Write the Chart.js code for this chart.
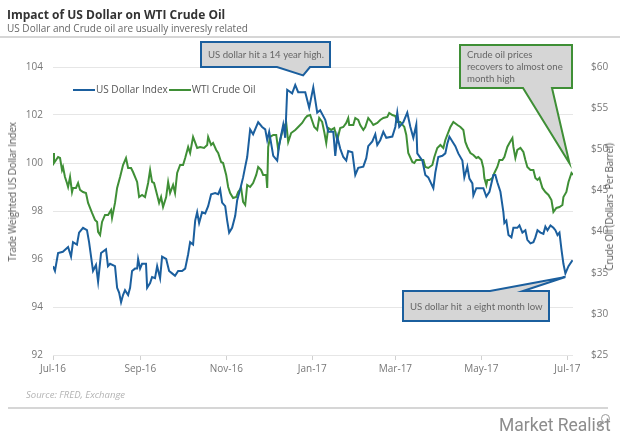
<!DOCTYPE html>
<html>
<head>
<meta charset="utf-8">
<script src="https://cdn.jsdelivr.net/npm/chart.js@4"></script>
<style>
  html, body { margin: 0; padding: 0; background: #fff; }
  #wrap { position: relative; width: 620px; height: 436px; overflow: hidden; font-family: "Open Sans", sans-serif; }
  canvas { position: absolute; left: 0; top: 0; }
  .t { position: absolute; white-space: nowrap; line-height: 1; }
  #title { left: 7px; top: 9px; font-size: 12px; font-weight: bold; color: #333; }
  #subtitle { left: 7px; top: 23px; font-size: 10px; color: #666; }
  #rule1 { position: absolute; left: 0; top: 36px; width: 620px; height: 2px; background: #d6d6d6; }
  #rule2 { position: absolute; left: 8px; top: 407px; width: 600px; height: 2px; background: #d6d6d6; }
  #source { left: 26px; top: 390px; font-size: 9.5px; font-style: italic; color: #b3b3b3; }
  #logo { left: 499px; top: 417px; font-family: Roboto, sans-serif; font-size: 17.5px; color: #8c8c8c; }
  #mag { position: absolute; left: 601px; top: 414px; width: 7px; height: 7px; border: 1.5px solid #9a9a9a; border-radius: 50%; }
  #magh { position: absolute; left: 597px; top: 424px; width: 6px; height: 1.5px; background: #9a9a9a; transform: rotate(-45deg); }
  .axt { position: absolute; white-space: nowrap; font-size: 10px; letter-spacing: -0.3px; color: #555; line-height: 1; }
  #ylab { left: 12px; top: 192px; transform: translate(-50%, -50%) rotate(-90deg); }
  #y2lab { left: 609px; top: 207px; transform: translate(-50%, -50%) rotate(-90deg); }
  #legend { position: absolute; left: 73px; top: 83px; font-size: 10px; color: #555; line-height: 12px; white-space: nowrap; }
  #legend span.sw { display: inline-block; width: 22px; height: 2px; vertical-align: middle; margin-right: 1px; }
  #legend span.item { margin-right: 1px; }
</style>
</head>
<body>
<div id="wrap">
  <canvas id="c" width="620" height="436"></canvas>
  <div id="title" class="t">Impact of US Dollar on WTI Crude Oil</div>
  <div id="subtitle" class="t">US Dollar and Crude oil are usually inveresly related</div>
  <div id="rule1"></div>
  <div id="ylab" class="axt">Trade Weighted US Dollar Index</div>
  <div id="y2lab" class="axt">Crude Oil (Dollars&nbsp; Per Barrel)</div>
  <div id="legend">
    <span class="sw" style="background:#1b5f9e"></span><span class="item">US Dollar Index</span><span class="sw" style="background:#3f8f36"></span><span class="item">WTI Crude Oil</span>
  </div>
  <div id="source" class="t">Source: FRED, Exchange</div>
  <div id="rule2"></div>
  <div id="logo" class="t">Market Realist</div>
  <div id="mag"></div><div id="magh"></div>
</div>
<script>
// Days counted from 1 Jul 2016
const tickDays = [0, 62, 123, 184, 243, 304, 365];
const tickLabels = ['Jul-16', 'Sep-16', 'Nov-16', 'Jan-17', 'Mar-17', 'May-17', 'Jul-17'];

const usdDay = [0,1.4,3.6,7,10.7,12.8,14.2,17,18.5,21.3,24.1,25.6,28.4,30.5,32,34.1,37.6,39,40.5,44,45.5,46.9,48.3,49.7,51.1,53.3,54.7,56.1,58.2,59.7,60.4,61.8,63.2,66,66.8,68.9,70.3,72.4,73.9,76,77.4,80.3,82.4,84.5,86.6,88.8,91.6,93.8,95.9,97.3,99.4,100.9,102.3,103.7,105.8,108,110.1,112.2,115.1,117.2,118.6,120,122.2,123.6,125,127.1,129.3,130.7,132.8,134.9,136.4,137.8,139.9,142,145.6,148.4,150.6,152,153.4,156.3,159.1,160.5,163.4,164.8,166.2,169.7,171.9,174,179,181.8,184.7,187.5,189.6,193.2,195.3,198.9,200.3,201.7,203.8,206,208.1,209.5,212.4,214.5,216.6,220.2,222.3,223.7,226.6,228.7,230.1,232.2,234.4,236.5,240.8,242.9,244.3,245.7,248.6,251.4,253.6,255.7,257.8,258.5,262.1,264.2,266.3,269.9,271.3,273.4,276.3,278.4,279.8,281.3,283.4,285.5,287.6,290.5,291.9,294,295.5,297.6,298.3,300.4,305.4,307.5,309.7,312.5,313.9,315.3,317.5,319.6,320.3,321.7,323.2,325.3,326.7,329.5,331,333.1,335.2,336.6,338.8,340.9,342.3,343.8,345.9,348,349.4,350.9,353,355.1,356.5,358,359.4,360.8,362.2,363.6,365.8,368.6];
const usdIndex = [95.7,95.5,96.25,96.3,96.5,96.1,96.7,96.6,97.1,97.3,97.2,96.7,95.5,95.75,95.05,96.25,96.4,95.7,95.8,95.7,94.8,94.6,94.2,94.5,94.7,94.5,94.8,95.5,95.6,95.6,96.0,95.6,95.8,95.8,94.8,95.0,95.25,95.2,95.7,95.2,96.1,96.0,95.5,95.4,95.3,95.5,95.5,95.6,96.2,96.7,96.6,97.6,97.95,97.5,97.95,97.9,98.2,98.7,98.75,98.7,98.9,98.35,98.2,97.6,97.1,97.3,97.8,98.45,98.9,99.4,99.85,100.25,101.4,101.2,101.7,101.5,101.4,100.95,101.3,100.3,100.1,100.75,101.6,101.05,103.05,102.9,103.25,102.95,102.95,102.3,103.15,102.1,102.2,101.8,101.3,101.3,100.3,101.1,100.6,100.25,100.1,100.5,100.45,99.5,99.8,99.85,100.2,100.7,100.9,101.2,100.75,100.95,101.3,101.05,101.1,101.5,102.1,101.5,101.7,102.1,101.5,101.05,101.6,100.4,100.1,99.5,99.4,98.95,99.6,100.25,100.3,100.4,100.8,101.1,100.9,100.7,100.4,100.1,99.4,99.85,99.35,99.15,98.65,98.95,98.95,98.6,98.8,99.5,99.5,99.2,98.8,97.95,97.5,97.6,97.0,96.9,97.3,97.3,97.4,97.1,97.2,96.8,96.65,96.7,96.9,97.2,97.1,97.05,97.35,97.2,97.4,97.3,97.2,97.0,97.1,96.4,95.8,95.4,95.7,95.95];

const oilDay = [0,0.7,3.6,5,6.4,7.1,8.5,9.9,10.7,12.1,13.5,14.2,16.3,17.8,19.2,21.3,23.4,24.9,27.7,29.8,31.3,32,33.4,34.8,36.9,39.1,41.2,41.9,44,45.5,47.6,49.7,51.8,53.3,55.4,56.8,59.7,61.1,63.2,65.3,67.5,68.9,70.3,71.7,73.9,75.3,76.7,78.1,80.3,81.7,83.1,85.2,86.6,88.1,90.2,92.3,93.8,95.9,97.3,99.4,102.3,104.4,107.2,109.4,110.1,112.2,113.6,115.8,117.2,119.3,120.7,122.9,124.3,125.7,127.8,130,131.4,133.5,134.9,136.4,137.8,139.9,142,144.2,145.6,147.7,149.1,151.3,152,152.7,154.1,156.3,158.4,159.8,161.2,163.4,165.5,166.9,169,171.9,174,176.8,179,180.4,182.5,185.4,187.5,188.9,191,192.5,193.9,195.3,197.4,199.6,201.7,203.8,206,208.1,209.5,210.2,213.1,214.5,216.6,218,220.2,221.6,223.7,225.9,227.3,230.1,232.2,234.4,237.2,238.6,240.8,242.9,244.3,246.4,249.3,250.7,252.1,255,256.4,257.8,259.9,262.8,264.2,266.3,269.2,270.6,272.7,274.9,277,278.4,279.8,282,284.1,287,289.1,291.2,292.6,294,296.2,298.3,300.4,301.8,304,305.4,306.1,307.5,308.2,309.7,311.8,313.2,315.3,316.8,318.9,320.3,322.4,323.9,326,326.7,328.1,329.5,331.7,333.8,335.2,336.6,338.8,340.9,342.3,343.8,345.2,347.3,349.4,351.6,353.7,355.1,357.2,359.4,361.5,362.2,364.3,365.8,367.9,369];
const oilPrice = [49.55,48.33,49.06,48.94,47.48,47.85,46.63,45.9,45.42,46.63,44.81,45.3,45.3,45.9,45.06,44.81,44.69,43.48,42.26,41.41,41.17,39.95,39.59,41.17,42.02,42.02,42.63,41.65,43.48,45.3,46.63,48.09,48.94,47.73,47.73,47.24,46.03,44.2,44.45,44.2,45.9,47.48,46.03,45.9,44.45,43.48,44.2,42.99,44.2,46.03,44.69,45.66,44.69,47.12,48.09,48.09,48.94,50.28,49.55,51.5,50.16,50.28,50.16,50.52,51.5,50.52,50.77,49.92,49.55,48.46,48.33,46.88,45.42,44.69,44.08,44.2,44.81,45.3,43.6,43.23,45.66,45.42,45.9,46.88,47.85,47.48,46.88,46.88,45.3,50.28,51.5,51.74,51.74,49.92,51.13,52.59,53.2,50.89,51.98,52.35,52.71,53.2,53.8,54.05,54.17,52.71,52.35,53.8,53.32,52.1,50.77,52.59,52.35,52.59,51.13,52.59,52.71,53.2,53.8,52.95,52.95,53.8,53.56,52.95,52.35,52.71,53.8,53.32,52.95,53.2,53.56,53.8,53.93,54.41,54.17,54.05,53.32,53.32,52.71,51.74,49.55,48.46,48.33,48.7,48.7,48.7,47.85,47.73,48.09,49.06,50.16,50.52,50.16,51.13,51.74,52.71,53.32,52.95,52.71,52.35,50.89,50.28,49.55,49.31,48.94,49.06,48.7,47.73,46.51,45.66,46.27,46.27,46.51,47.12,47.85,48.7,48.7,49.06,50.28,50.77,51.37,50.28,48.94,49.92,50.16,49.67,48.7,47.85,47.48,47.48,46.51,46.27,46.51,45.3,44.81,44.45,43.84,42.38,42.87,42.99,43.23,44.2,44.81,46.03,47.12,46.88];

const BLUE = '#1b5f9e';
const GREEN = '#3f8f36';
const TICK_FONT = { family: 'Open Sans', size: 10 };
const TICK_COLOR = '#777';

// Callout boxes: the tip is anchored to a data position, the box is placed on the page
const callouts = [
  { text: ['US dollar hit a 14 year high.'], color: BLUE, box: [201, 42, 330, 67], tail: 'bottom', base: [277, 310], tip: { x: 177.5, y: 103.65, axis: 'y' } },
  { text: ['Crude oil prices', 'recovers to almost one', 'month high'], color: GREEN, box: [460, 45, 572, 88], tail: 'bottom', base: [523, 552], tip: { x: 366.5, y: 48.3, axis: 'yOil' } },
  { text: ['US dollar hit  a eight month low'], color: BLUE, box: [403, 291, 549, 321], tail: 'top', base: [490, 523], tip: { x: 363.6, y: 95.25, axis: 'y' } }
];

const calloutPlugin = {
  id: 'callouts',
  afterDatasetsDraw(chart) {
    const c = chart.ctx;
    c.save();
    callouts.forEach(a => {
      const tx = chart.scales.x.getPixelForValue(a.tip.x);
      const ty = chart.scales[a.tip.axis].getPixelForValue(a.tip.y);
      const [l, t, r, b] = a.box;
      const [x1, x2] = a.base;
      c.beginPath();
      if (a.tail === 'bottom') {
        c.moveTo(l, t); c.lineTo(r, t); c.lineTo(r, b); c.lineTo(x2, b);
        c.lineTo(tx, ty); c.lineTo(x1, b); c.lineTo(l, b);
      } else {
        c.moveTo(l, t); c.lineTo(x1, t); c.lineTo(tx, ty); c.lineTo(x2, t);
        c.lineTo(r, t); c.lineTo(r, b); c.lineTo(l, b);
      }
      c.closePath();
      c.fillStyle = '#d6d6d6';
      c.fill();
      c.lineWidth = 2;
      c.strokeStyle = a.color;
      c.lineJoin = 'miter';
      c.stroke();
      c.fillStyle = '#666';
      c.font = '9.6px Lato';
      c.textBaseline = 'middle';
      const n = a.text.length;
      const lh = 11.7;
      const cy = (t + b) / 2 - (n - 1) * lh / 2 + 0.5;
      a.text.forEach((s, i) => c.fillText(s, l + 7, cy + i * lh));
    });
    c.restore();
  }
};

new Chart(document.getElementById('c'), {
  type: 'line',
  data: {
    datasets: [
      { label: 'US Dollar Index', data: usdDay.map((d, i) => ({ x: d, y: usdIndex[i] })), borderColor: BLUE, borderWidth: 2, pointRadius: 0, yAxisID: 'y', tension: 0 },
      { label: 'WTI Crude Oil', data: oilDay.map((d, i) => ({ x: d, y: oilPrice[i] })), borderColor: GREEN, borderWidth: 2, pointRadius: 0, yAxisID: 'yOil', tension: 0 }
    ]
  },
  options: {
    responsive: false,
    animation: false,
    layout: { padding: { top: 67, bottom: 0, left: 0, right: 0 } },
    plugins: { legend: { display: false }, tooltip: { enabled: false } },
    scales: {
      x: {
        type: 'linear', min: 0, max: 369,
        afterBuildTicks: s => { s.ticks = tickDays.map(v => ({ value: v })); },
        afterFit: s => { s.height = 81; },
        ticks: { callback: v => tickLabels[tickDays.indexOf(v)], font: TICK_FONT, color: TICK_COLOR, padding: 3, maxRotation: 0, autoSkip: false },
        grid: { drawOnChartArea: false, drawTicks: true, tickLength: 5, color: '#d0d0d0' },
        border: { display: false }
      },
      y: {
        position: 'left', min: 92, max: 104,
        afterFit: s => { s.width = 53; },
        ticks: { stepSize: 2, padding: 10, font: TICK_FONT, color: TICK_COLOR },
        grid: { color: '#e6e6e6', drawTicks: false },
        border: { display: false }
      },
      yOil: {
        position: 'right', min: 25, max: 60,
        afterFit: s => { s.width = 47; },
        ticks: { stepSize: 5, padding: 10, font: TICK_FONT, color: TICK_COLOR, callback: v => '$' + v },
        grid: { display: false },
        border: { display: false }
      }
    }
  },
  plugins: [calloutPlugin]
});
</script>
</body>
</html>
